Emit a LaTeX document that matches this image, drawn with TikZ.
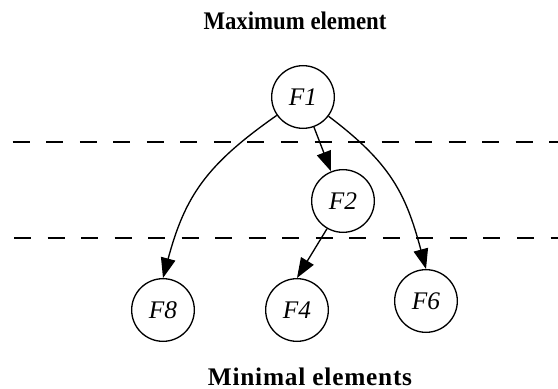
\documentclass[tikz,border=0pt]{standalone}
\usepackage{fontspec}
\setmainfont{Liberation Serif}
\newfontfamily\capfont[FakeStretch=0.9]{Liberation Serif}
\newfontfamily\widecapfont[LetterSpace=3]{Liberation Serif}
\usetikzlibrary{arrows.meta}

\begin{document}
\begin{tikzpicture}[x=0.75pt, y=-0.75pt,
    state/.style={draw, circle, line width=1pt, minimum size=47pt, inner sep=0pt, font=\fontsize{19}{19}\selectfont\itshape},
    edge/.style={line width=1pt, -{Triangle[length=15pt, width=11pt]}},
    level/.style={line width=1pt, dash pattern=on 12.75pt off 12.4pt},
    caption/.style={anchor=base, inner sep=1pt, font=\fontsize{19}{19}\capfont\bfseries}]
    \useasboundingbox (0,0) rectangle (558,389);

    \node[caption] (max) at (295, 30) {Maximum element};
    \node[caption, font=\fontsize{19}{19}\widecapfont\bfseries] (min) at (310, 385) {Minimal elements};

    \draw[level] (12.7, 142) -- (558, 142);
    \draw[level] (14, 238) -- (558, 238);

    \node[state] (F1) at (303, 97) {F1};
    \node[state] (F2) at (343, 201) {F2};
    \node[state] (F8) at (163, 310) {F8};
    \node[state] (F4) at (297, 310) {F4};
    \node[state] (F6) at (426, 301) {F6};

    \draw[edge] (F1) to[out=-145, in=75, looseness=1.1] (F8.north);
    \draw[edge] (F1.-70) -- (F2.112);
    \draw[edge] (F2.-120) -- (F4.north);
    \draw[edge] (F1) to[out=-37, in=105, looseness=1.1] (F6.north);
\end{tikzpicture}
\end{document}
